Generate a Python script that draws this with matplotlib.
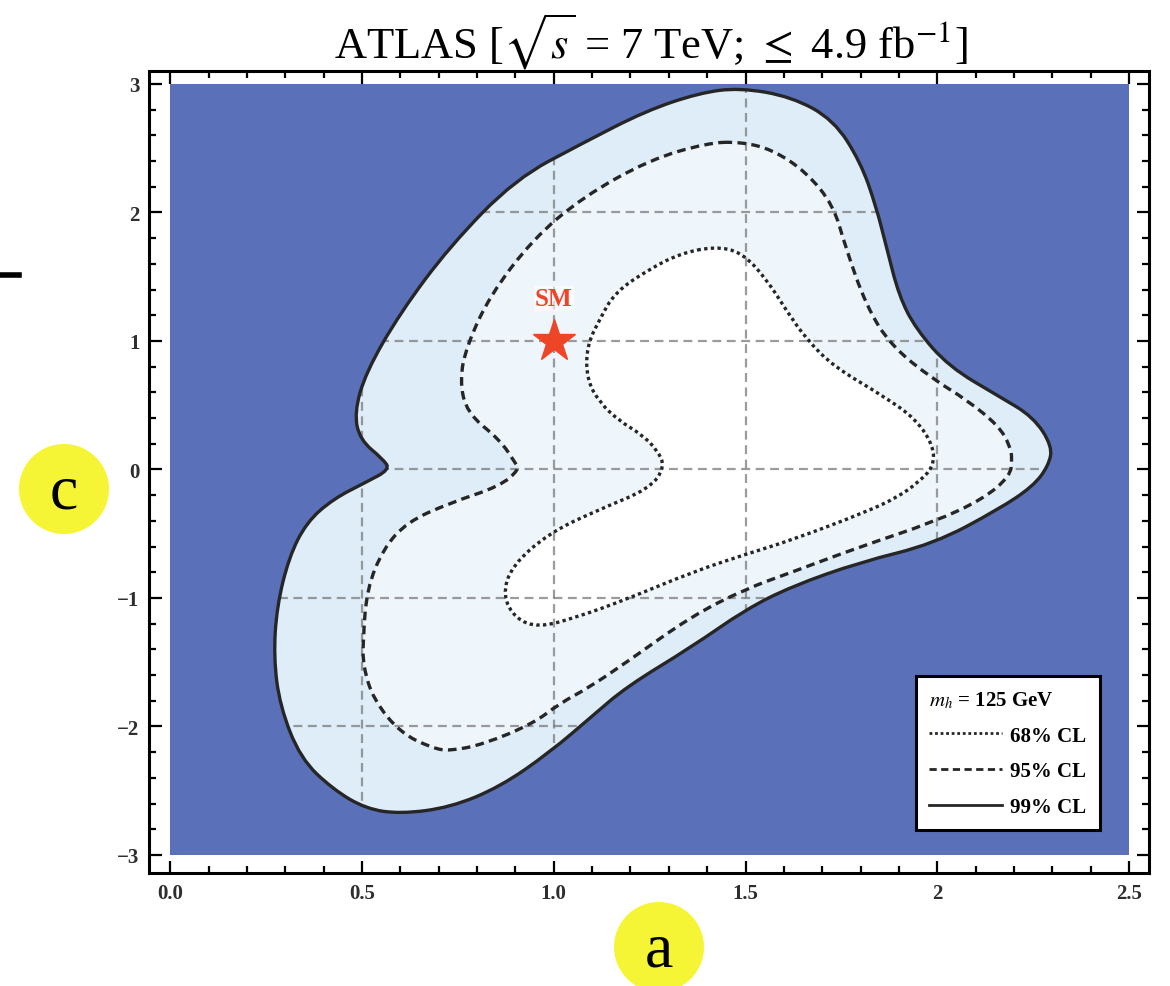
import numpy as np
import matplotlib
matplotlib.use("Agg")
import matplotlib.pyplot as plt
from matplotlib.lines import Line2D
from matplotlib.patches import Ellipse, PathPatch
from matplotlib.path import Path

plt.rcParams['font.family'] = ['Liberation Serif', 'DejaVu Serif']
plt.rcParams['mathtext.fontset'] = 'stix'

# contour outlines (a, c), clockwise from the top
cl99_a = [1.485, 1.62, 1.73, 1.80, 1.84, 1.867, 1.90, 1.945, 2.03, 2.16, 2.25, 2.30,
          2.29, 2.25, 2.16, 1.99, 1.80, 1.62, 1.50, 1.36, 1.19, 1.10, 0.99, 0.86,
          0.73, 0.60, 0.51, 0.425, 0.34, 0.286, 0.27, 0.278, 0.31, 0.356, 0.425,
          0.51, 0.573, 0.555, 0.495, 0.48, 0.51, 0.60, 0.73, 0.90, 1.076, 1.24, 1.38]
cl99_c = [2.97, 2.90, 2.72, 2.39, 2.05, 1.735, 1.35, 1.09, 0.80, 0.57, 0.41, 0.18,
          0.03, -0.13, -0.31, -0.58, -0.72, -0.91, -1.09, -1.38, -1.69, -1.92, -2.20, -2.47,
          -2.63, -2.68, -2.64, -2.49, -2.25, -1.84, -1.46, -1.07, -0.68, -0.41, -0.23,
          -0.10, 0.0, 0.08, 0.23, 0.44, 0.755, 1.22, 1.74, 2.26, 2.54, 2.79, 2.93]

cl95_a = [1.485, 1.57, 1.66, 1.73, 1.76, 1.815, 1.88, 1.99, 2.075, 2.16, 2.19, 2.195,
          2.19, 2.12, 1.99, 1.80, 1.62, 1.50, 1.36, 1.19, 1.09, 1.016, 0.945, 0.815,
          0.73, 0.685, 0.60, 0.53, 0.503, 0.503, 0.513, 0.555, 0.617, 0.73, 0.86,
          0.91, 0.90, 0.86, 0.773, 0.755, 0.773, 0.833, 0.945, 1.076, 1.25, 1.40]
cl95_c = [2.55, 2.49, 2.31, 2.05, 1.735, 1.27, 0.96, 0.70, 0.545, 0.34, 0.18, 0.08,
          -0.05, -0.23, -0.41, -0.60, -0.80, -0.93, -1.14, -1.50, -1.70, -1.82, -1.98, -2.14,
          -2.19, -2.17, -2.05, -1.79, -1.53, -1.32, -0.93, -0.62, -0.41, -0.26, -0.13,
          0.0, 0.05, 0.23, 0.44, 0.70, 0.96, 1.35, 1.79, 2.12, 2.41, 2.54]

cl68_a = [1.42, 1.49, 1.555, 1.61, 1.66, 1.73, 1.86, 1.945, 1.99, 1.99, 1.95, 1.90,
          1.815, 1.62, 1.50, 1.36, 1.19, 1.06, 0.96, 0.90, 0.867, 0.89, 0.99, 1.12,
          1.25, 1.29, 1.27, 1.23, 1.17, 1.12, 1.086, 1.086, 1.12, 1.16, 1.25, 1.33]
cl68_c = [1.735, 1.69, 1.48, 1.22, 1.01, 0.80, 0.57, 0.39, 0.18, 0.02, -0.10, -0.21,
          -0.33, -0.55, -0.66, -0.80, -1.01, -1.15, -1.23, -1.16, -0.98, -0.75, -0.49, -0.31,
          -0.15, 0.02, 0.15, 0.27, 0.38, 0.52, 0.70, 0.96, 1.17, 1.38, 1.56, 1.68]

a_range = [0.0, 2.5]
c_range = [-3.0, 3.0]
sm_point = (1.0, 1.0)
x_ticks = [0.0, 0.5, 1.0, 1.5, 2.0, 2.5]
x_ticklabels = ["0.0", "0.5", "1.0", "1.5", "2", "2.5"]
y_ticks = [-3, -2, -1, 0, 1, 2, 3]
grid_a = [0.5, 1.0, 1.5, 2.0]
grid_c = [-2, -1, 0, 1, 2]

blue = '#5a71b9'
band99 = '#deedf8'
band95 = '#eef5fb'
ink = '#262626'


def smooth_path(xs, ys):
    # closed quadratic-bezier path using the read points as control points
    pts = np.column_stack([xs, ys])
    n = len(pts)
    mids = (pts + np.roll(pts, -1, axis=0)) / 2
    verts = [mids[-1]]
    codes = [Path.MOVETO]
    for i in range(n):
        verts += [pts[i], mids[i]]
        codes += [Path.CURVE3, Path.CURVE3]
    verts.append(mids[-1])
    codes.append(Path.CLOSEPOLY)
    return Path(verts, codes)


p99 = smooth_path(cl99_a, cl99_c)
p95 = smooth_path(cl95_a, cl95_c)
p68 = smooth_path(cl68_a, cl68_c)

fig = plt.figure(figsize=(11.7, 9.87), dpi=100)
ax = fig.add_axes([0.1274, 0.1145, 0.8547, 0.8125])

# excluded region
ax.fill_between(a_range, c_range[0], c_range[1], color=blue, lw=0, zorder=1)

outer = ax.add_patch(PathPatch(p99, fc=band99, lw=0, zorder=2))
ax.add_patch(PathPatch(p95, fc=band95, lw=0, zorder=3))
ax.add_patch(PathPatch(p68, fc='white', lw=0, zorder=4))

# grid only inside the allowed region
for g in grid_a:
    ln = ax.axvline(g, color='#7a7a7a', lw=1.6, ls=(0, (4, 2.5)), alpha=0.75, zorder=5)
    ln.set_clip_path(outer)
for g in grid_c:
    ln = ax.axhline(g, color='#7a7a7a', lw=1.6, ls=(0, (4, 2.5)), alpha=0.75, zorder=5)
    ln.set_clip_path(outer)

ax.add_patch(PathPatch(p99, fill=False, ec=ink, lw=2.4, zorder=6))
ax.add_patch(PathPatch(p95, fill=False, ec=ink, lw=2.4, ls=(0, (2.6, 1.6)), zorder=6))
ax.add_patch(PathPatch(p68, fill=False, ec=ink, lw=2.4, ls=(0, (1.0, 1.0)), zorder=6))

# SM point
ax.plot(*sm_point, marker='*', ms=32, color='#ee4527', mec='#ee4527', zorder=7, ls='none')
ax.text(sm_point[0], sm_point[1] + 0.33, "SM", color='#ee4527', fontsize=18,
        fontweight='bold', ha='center', va='center', zorder=7,
        bbox=dict(boxstyle='square,pad=0.05', fc='white', ec='none', alpha=0.6))

ax.set_xlim(-0.055, 2.552)
ax.set_ylim(-3.14, 3.10)
ax.set_xticks(x_ticks)
ax.set_xticklabels(x_ticklabels)
ax.set_yticks(y_ticks)
ax.set_yticklabels([f"{v}".replace("-", "\u2212") for v in y_ticks])
ax.set_xticks(np.arange(0, 2.51, 0.1), minor=True)
ax.set_yticks(np.arange(-3, 3.01, 0.2), minor=True)
ax.tick_params(which='both', direction='in', top=True, right=True, width=1.6, colors='black')
ax.tick_params(which='major', length=9, labelsize=15, pad=7)
ax.tick_params(which='minor', length=5)
for lab in ax.get_xticklabels() + ax.get_yticklabels():
    lab.set_fontweight('bold')
    lab.set_color('#2e2e2e')
for sp in ax.spines.values():
    sp.set_linewidth(2.2)

handles = [Line2D([], [], color=ink, lw=2.0, ls=(0, (1.0, 1.0))),
           Line2D([], [], color=ink, lw=2.0, ls=(0, (2.6, 1.6))),
           Line2D([], [], color=ink, lw=2.0)]
leg = ax.legend(handles, ["68% CL", "95% CL", "99% CL"], loc='lower right',
                bbox_to_anchor=(0.951, 0.053), borderaxespad=0,
                prop={'size': 15, 'weight': 'bold'},
                title=r"$m_h$ = 125 GeV",
                title_fontproperties={'size': 15, 'weight': 'bold'}, alignment='left',
                handlelength=3.5, handletextpad=0.4, labelspacing=0.75,
                fancybox=False, framealpha=1, edgecolor='black', borderpad=0.65)
leg.get_frame().set_linewidth(2.2)
leg.set_zorder(10)

fig.text(0.556, 1 - 42 / 987, r"ATLAS [$\sqrt{s}$ = 7 TeV; $\leq$ 4.9 fb$^{-1}$]",
         ha='center', va='center', fontsize=32)

# yellow markers
yellow = '#f5f536'
for cx, cy, letter in [(64, 490, "c"), (659, 948, "a")]:
    fig.patches.append(Ellipse((cx / 1170, 1 - cy / 987), 90 / 1170, 90 / 987,
                               transform=fig.transFigure, fc=yellow, ec='none'))
    fig.text(cx / 1170, 1 - (cy + 4) / 987, letter, ha='center', va='center', fontsize=46)

fig.add_artist(Line2D([0, 19 / 1170], [1 - 276 / 987, 1 - 276 / 987],
                      transform=fig.transFigure, color='black', lw=4))

fig.savefig("out.png", dpi=100)
